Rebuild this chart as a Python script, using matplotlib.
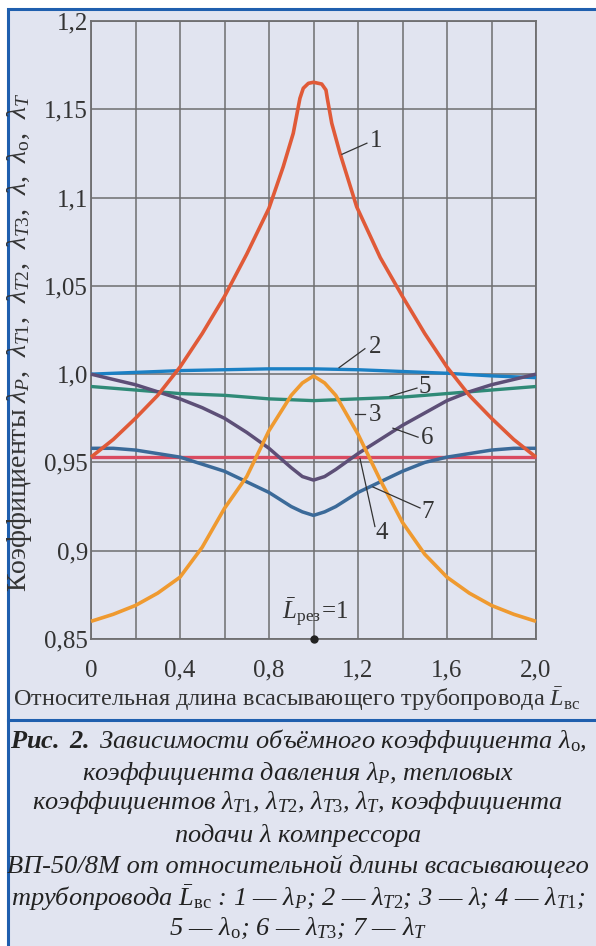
import numpy as np
import matplotlib
matplotlib.use("Agg")
import matplotlib.pyplot as plt
from matplotlib.patches import Rectangle
from matplotlib.lines import Line2D

plt.rcParams['font.family'] = ['Liberation Serif', 'DejaVu Serif']
plt.rcParams['mathtext.fontset'] = 'custom'
plt.rcParams['mathtext.rm'] = 'Liberation Serif'
plt.rcParams['mathtext.it'] = 'Liberation Serif:italic'
plt.rcParams['mathtext.bf'] = 'Liberation Serif:italic:bold'

BG = "#e1e4f0"
FRAME = "#1f5fae"
GRID = "#6e6e70"
INK = "#333333"

# relative suction pipe length
x1 = [0, 0.1, 0.2, 0.3, 0.4, 0.5, 0.6, 0.7, 0.8, 0.864, 0.909, 0.939, 0.954, 0.977, 1.0,
      1.037, 1.056, 1.062, 1.082, 1.119, 1.194, 1.3, 1.4, 1.5, 1.6, 1.7, 1.8, 1.9, 2.0]
lam_p = [0.953, 0.963, 0.975, 0.988, 1.004, 1.023, 1.044, 1.068, 1.094, 1.1175, 1.1364,
         1.1562, 1.1619, 1.1647, 1.1653, 1.1643, 1.1609, 1.1562, 1.1421, 1.1251, 1.0948,
         1.066, 1.044, 1.023, 1.004, 0.988, 0.975, 0.963, 0.953]

x_s = [0, 0.2, 0.4, 0.6, 0.8, 1.0, 1.2, 1.4, 1.6, 1.8, 2.0]
lam_t2 = [1.000, 1.001, 1.002, 1.0025, 1.003, 1.003, 1.0025, 1.0015, 1.0005, 0.999, 0.998]
lam_o = [0.993, 0.991, 0.989, 0.988, 0.986, 0.985, 0.986, 0.987, 0.989, 0.991, 0.993]
lam_t1 = [0.9528] * len(x_s)

x_v = [0, 0.1, 0.2, 0.3, 0.4, 0.5, 0.6, 0.7, 0.8, 0.9, 0.95, 1.0,
       1.05, 1.1, 1.2, 1.3, 1.4, 1.5, 1.6, 1.7, 1.8, 1.9, 2.0]
lam = [0.860, 0.864, 0.869, 0.876, 0.885, 0.902, 0.924, 0.942, 0.968, 0.988, 0.995, 0.999,
       0.995, 0.988, 0.966, 0.940, 0.916, 0.898, 0.885, 0.876, 0.869, 0.864, 0.860]
lam_t3 = [1.000, 0.997, 0.994, 0.990, 0.986, 0.981, 0.975, 0.967, 0.958, 0.947, 0.942, 0.940,
          0.942, 0.946, 0.955, 0.963, 0.971, 0.978, 0.985, 0.990, 0.994, 0.997, 1.000]
lam_t = [0.958, 0.958, 0.957, 0.955, 0.953, 0.949, 0.945, 0.939, 0.933, 0.925, 0.922, 0.920,
         0.922, 0.925, 0.933, 0.939, 0.945, 0.950, 0.953, 0.955, 0.957, 0.958, 0.958]

series = [
    (x_s, lam_t1, "#d94a60", 2.4),
    (x_s, lam_t2, "#1b80c4", 2.4),
    (x_s, lam_o, "#2f8a77", 2.4),
    (x_v, lam_t, "#3b6a99", 2.5),
    (x_v, lam_t3, "#5d4f77", 2.5),
    (x_v, lam, "#ef9a30", 2.6),
    (x1, lam_p, "#e05a38", 2.6),
]

# curve numbers: leader start, leader end, label position
callouts = [
    ("1", (1.128, 1.1245), (1.240, 1.1308), (1.252, 1.1319)),
    ("2", (1.115, 1.0037), (1.231, 1.0144), (1.247, 1.0156)),
    ("3", (1.187, 0.9775), (1.231, 0.9775), (1.247, 0.9770)),
    ("4", (1.209, 0.9522), (1.276, 0.9137), (1.279, 0.9100)),
    ("5", (1.344, 0.9875), (1.465, 0.9921), (1.472, 0.9927)),
    ("6", (1.357, 0.9694), (1.470, 0.9643), (1.481, 0.9637)),
    ("7", (1.267, 0.9361), (1.479, 0.9242), (1.486, 0.9219)),
]

fig = plt.figure(figsize=(5.96, 9.46), dpi=100)
fig.patch.set_facecolor("white")

# framed panel
fig.patches.append(Rectangle((8 / 596, -0.1), 1.2, (946 - 9) / 946 + 0.1,
                             transform=fig.transFigure, facecolor=BG,
                             edgecolor=FRAME, linewidth=2.2, zorder=-10))
fig.lines.append(Line2D([8 / 596, 1], [1 - 720 / 946] * 2, transform=fig.transFigure,
                        color=FRAME, linewidth=2.2, zorder=-5))

ax = fig.add_axes([91 / 596, 1 - 639 / 946, 445 / 596, 618 / 946])
ax.set_zorder(2)
ax.set_facecolor(BG)
ax.set_xlim(0, 2.0)
ax.set_ylim(0.85, 1.2)

xt = np.round(np.arange(0, 2.01, 0.2), 1)
ax.set_xticks(xt)
xt_lab = []
for i, v in enumerate(xt):
    if i % 2:
        xt_lab.append("")
    elif v == 0:
        xt_lab.append("0")
    else:
        xt_lab.append(("%.1f" % v).replace(".", ","))
ax.set_xticklabels(xt_lab)
yt = [0.85, 0.9, 0.95, 1.0, 1.05, 1.1, 1.15, 1.2]
ax.set_yticks(yt)
ax.set_yticklabels(["0,85", "0,9", "0,95", "1,0", "1,05", "1,1", "1,15", "1,2"])
ax.tick_params(length=0, labelsize=18, colors=INK)
ax.tick_params(axis="x", pad=15)
ax.tick_params(axis="y", pad=2)
ax.grid(True, color=GRID, linewidth=1.1)
ax.set_axisbelow(True)
for s in ax.spines.values():
    s.set_color(GRID)
    s.set_linewidth(1.3)

for xs, ys, c, lw in series:
    ax.plot(xs, ys, color=c, linewidth=lw, solid_capstyle="butt", clip_on=False, zorder=3)

for num, p0, p1, pt in callouts:
    ax.plot([p0[0], p1[0]], [p0[1], p1[1]], color=INK, linewidth=0.9, zorder=4)
    ax.text(pt[0], pt[1], num, fontsize=18, color=INK, ha="left", va="center", zorder=5)

ax.plot([1.0], [0.85], "o", color="#222222", markersize=5, clip_on=False, zorder=6)
ax.text(0.86, 0.8648, r"$\bar{L}_{\mathrm{рез}}\!=\!1$", fontsize=18, color=INK,
        ha="left", va="center", zorder=5)

fig.text(20 / 596, 1 - 342 / 946,
         r"Коэффициенты $\lambda_P$,  $\lambda_{T1}$,  $\lambda_{T2}$,  $\lambda_{T3}$,  $\lambda$,  "
         r"$\lambda_\mathrm{o}$,  $\lambda_T$",
         rotation=90, ha="center", va="center", fontsize=20, color=INK)
fig.text(297 / 596, 1 - 699 / 946,
         r"Относительная длина всасывающего трубопровода $\bar{L}_{\mathrm{вс}}$",
         ha="center", va="center", fontsize=17.5, color=INK)

caption = [
    (741, r"$\mathbf{Рис.\ 2.}$ Зависимости объёмного коэффициента $\lambda_\mathrm{o}$,"),
    (773, r"коэффициента давления $\lambda_P$, тепловых"),
    (803, r"коэффициентов $\lambda_{T1}$, $\lambda_{T2}$, $\lambda_{T3}$, $\lambda_T$, коэффициента"),
    (835, r"подачи $\lambda$ компрессора"),
    (866, r"ВП-50/8М от относительной длины всасывающего"),
    (898, r"трубопровода $\bar{L}_{\mathrm{вс}}$ : 1 — $\lambda_P$; 2 — $\lambda_{T2}$; 3 — $\lambda$; 4 — $\lambda_{T1}$;"),
    (928, r"5 — $\lambda_\mathrm{o}$; 6 — $\lambda_{T3}$; 7 — $\lambda_T$"),
]
for yp, s in caption:
    fig.text(298 / 596, 1 - yp / 946, s, ha="center", va="center", fontsize=19,
             fontstyle="italic", color="#222222")

fig.savefig("out.png", dpi=100, facecolor=fig.get_facecolor())
